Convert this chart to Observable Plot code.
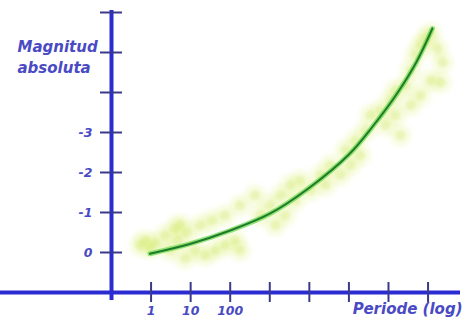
<!DOCTYPE html>
<html><head><meta charset="utf-8">
<script src="https://cdn.jsdelivr.net/npm/d3@7"></script>
<script src="https://cdn.jsdelivr.net/npm/@observablehq/plot@0.6"></script>
<style>
body{margin:0;background:#fff}
svg{display:block}
svg text{font-style:italic;font-weight:bold}
</style>
</head><body><div id="chart"></div>
<script>
// Scatter cloud: log10(period) and absolute magnitude
const cloudLogPeriod = [-0.28,-0.15,-0.03,0.1,0.35,0.61,0.73,0.91,0.68,0.48,0.86,1.11,1.37,1.62,1.87,2.25,2.13,1.24,1.54,1.87,2.25,2.63,2.76,3.01,3.27,3.52,3.77,4.03,3.65,3.39,3.14,4.28,4.53,4.41,4.78,5.04,4.91,5.16,5.42,5.29,5.54,5.8,6.05,6.18,5.92,6.18,6.3,6.43,6.56,6.68,6.81,6.94,7.06,7.24,7.37,7.32,7.06,6.81,6.56];
const cloudMag = [-0.18,-0.3,-0.1,-0.23,-0.43,-0.6,-0.7,-0.5,-0.3,-0.05,0.15,-0.05,0.08,-0.05,-0.18,-0.05,-0.3,-0.68,-0.8,-0.93,-1.18,-1.43,-0.93,-1.18,-1.43,-1.68,-1.8,-1.55,-1.3,-0.93,-0.68,-1.93,-2.18,-1.68,-1.93,-2.18,-2.55,-2.8,-3.05,-2.43,-3.43,-3.55,-3.8,-4.05,-3.18,-3.43,-2.93,-4.18,-4.55,-4.93,-5.18,-5.35,-5.48,-5.1,-4.75,-4.25,-4.3,-3.93,-3.68];
// Fitted relation
const curveLogPeriod = [-0.03,1.0,2.0,3.0,4.0,5.0,5.6,6.2,6.7,7.11];
const curveMag = [0.03,-0.22,-0.55,-0.97,-1.62,-2.45,-3.15,-3.95,-4.75,-5.6];
// Axis ticks
const periodTicks = [1,10,100,1e3,1e4,1e5,1e6,1e7];
const periodTickLabels = ["1","10","100","","","","",""];
const magTicks = [0,-1,-2,-3,-4,-5,-6];
const magTickLabels = ["0","-1","-2","-3","","",""];
const yTitle = "Magnitud\nabsoluta";
const xTitle = "Periode (log)";

const cloud = cloudLogPeriod.map((lp,i)=>({period:10**lp, mag:cloudMag[i]}));
const curve = curveLogPeriod.map((lp,i)=>({period:10**lp, mag:curveMag[i]}));
const periodLabel = d => { const i = periodTicks.findIndex(t => Math.abs(t-d)/t < 1e-6); return i >= 0 ? periodTickLabels[i] : ""; };
const magLabel = d => { const i = magTicks.findIndex(t => Math.abs(t-d) < 1e-6); return i >= 0 ? magTickLabels[i] : ""; };

const axisColor = "#2b2bd2";
const tickColor = "#3a3a8c";
const textColor = "#4a4ac4";

const chart = Plot.plot({
  width:463, height:325,
  marginLeft:111, marginRight:3, marginTop:8, marginBottom:33,
  style:{fontFamily:"'DejaVu Sans', Verdana, sans-serif", background:"white", overflow:"visible"},
  x:{type:"log", domain:[0.1, 10**7.82], label:null},
  y:{domain:[1,-6.1], label:null},
  marks:[
    Plot.dot(cloud,{x:"period",y:"mag",r:11,fill:"#e2f28c",fillOpacity:0.25,stroke:"none",imageFilter:"blur(2px)"}),
    Plot.dot(cloud,{x:"period",y:"mag",r:5,fill:"#c8e654",fillOpacity:0.3,stroke:"none",imageFilter:"blur(1.5px)"}),
    Plot.line(curve,{x:"period",y:"mag",stroke:"#66d84a",strokeWidth:5,strokeOpacity:0.7,curve:"catmull-rom"}),
    Plot.line(curve,{x:"period",y:"mag",stroke:"#1f7a2a",strokeWidth:2,curve:"catmull-rom"}),
    Plot.ruleY([1],{x1:10**-3.85,x2:10**7.82,stroke:axisColor,strokeWidth:4}),
    Plot.ruleX([0.1],{y1:-6.05,y2:1.2,stroke:axisColor,strokeWidth:4}),
    Plot.axisX({ticks:periodTicks,tickSize:20,dy:-10,tickFormat:()=>"",label:null,stroke:tickColor,strokeWidth:2}),
    Plot.axisX({ticks:periodTicks,tickSize:0,tickPadding:14,tickFormat:periodLabel,label:null,fill:textColor,fontSize:12.5}),
    Plot.axisY({ticks:magTicks,tickSize:22,dx:11,tickFormat:()=>"",label:null,stroke:tickColor,strokeWidth:2}),
    Plot.axisY({ticks:magTicks,tickSize:0,tickPadding:19,tickFormat:magLabel,label:null,fill:textColor,fontSize:12.5}),
    Plot.text([yTitle],{frameAnchor:"top-left",dx:-94,dy:29,textAnchor:"start",lineAnchor:"top",lineHeight:1.4,fontSize:15,fill:textColor}),
    Plot.text([xTitle],{frameAnchor:"bottom-right",dx:2,dy:11,textAnchor:"end",lineAnchor:"top",fontSize:15,fill:textColor})
  ]
});
document.getElementById("chart").append(chart);
</script>
</body></html>
